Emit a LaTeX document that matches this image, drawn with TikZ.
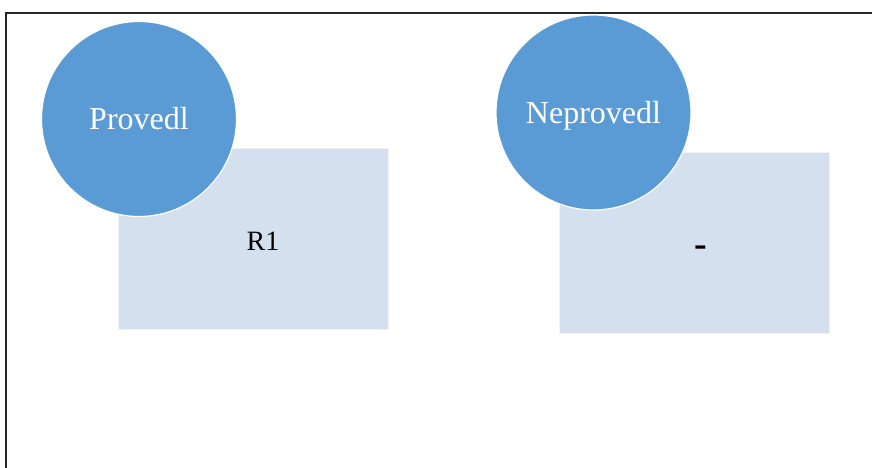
\documentclass[tikz,border=0pt]{standalone}
\usepackage{fontspec}
\setmainfont{Liberation Serif}
\definecolor{stageblue}{RGB}{91, 155, 213}
\definecolor{boxblue}{RGB}{213, 224, 238}
\usetikzlibrary{positioning}

\tikzset{
  stage/.style={circle, fill=stageblue, draw=white, line width=1.2pt, minimum size=195pt, inner sep=0pt, text=white, font=\fontsize{32}{36}\selectfont},
  resultbox/.style={rectangle, fill=boxblue, draw=white!60!boxblue, line width=0.8pt, minimum width=270pt, minimum height=181pt, inner sep=0pt},
  resulttext/.style={font=\fontsize{28}{32}\selectfont}
}

\begin{document}
\begin{tikzpicture}[x=1pt, y=-1pt]
  \useasboundingbox (0,0) rectangle (872,468);

  % frame
  \draw[line width=2pt, black!85] (6,468) -- (6,13) -- (872,13);

  % left pair
  \node[resultbox] (box1) at (253,238.5) {};
  \node[resulttext] (r1) at (263,241) {R1};
  \node[stage] (done) at (139,119) {Provedl};

  % right pair
  \node[resultbox] (box2) at (694,242.5) {};
  \node[resulttext, font=\fontsize{38}{40}\selectfont] (dash) at (701,251) {\textbf{-}};
  \node[stage, text depth=0pt] (notdone) at (593.5,112.5) {Neprovedl};
\end{tikzpicture}
\end{document}
